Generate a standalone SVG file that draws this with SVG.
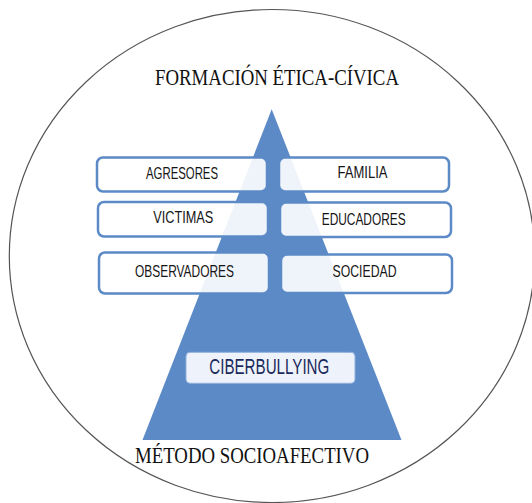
<svg xmlns="http://www.w3.org/2000/svg" width="532" height="503" viewBox="0 0 532 503">
<style>
.box{fill:#ffffff;fill-opacity:0.9;stroke:#5b8ac6;stroke-width:2.5}
.lbl{font-family:"Liberation Sans",Arial,sans-serif;font-size:17px;fill:#151515;text-anchor:middle}
.ttl{font-family:"Liberation Serif","Times New Roman",serif;font-size:22.5px;fill:#111111}
</style>
<rect width="532" height="503" fill="#ffffff"/>
<g id="circle"><ellipse cx="272" cy="256" rx="262.7" ry="246.5" fill="none" stroke="#555555" stroke-width="1.2"/></g>
<g id="title-top"><text class="ttl" x="155" y="85" textLength="244" lengthAdjust="spacingAndGlyphs">FORMACIÓN ÉTICA-CÍVICA</text></g>
<g id="pyramid"><polygon points="271.7,109.3 401.5,440 142.5,440" fill="#5b8ac6"/></g>
<g id="agresores"><rect class="box" x="97" y="157.5" width="170" height="34" rx="6"/><text class="lbl" x="182" y="179.3" textLength="72" lengthAdjust="spacingAndGlyphs">AGRESORES</text></g>
<g id="victimas"><rect class="box" x="98" y="202" width="170" height="34.5" rx="6"/><text class="lbl" x="183.3" y="223.3" textLength="60" lengthAdjust="spacingAndGlyphs">VICTIMAS</text></g>
<g id="observadores"><rect class="box" x="99" y="252.5" width="170" height="41" rx="6"/><text class="lbl" x="184.5" y="276.7" textLength="99" lengthAdjust="spacingAndGlyphs">OBSERVADORES</text></g>
<g id="familia"><rect class="box" x="279" y="157.5" width="170" height="34" rx="6"/><text class="lbl" x="362.5" y="178.3" textLength="50" lengthAdjust="spacingAndGlyphs">FAMILIA</text></g>
<g id="educadores"><rect class="box" x="280" y="202.5" width="171" height="34.5" rx="6"/><text class="lbl" x="363.7" y="225" textLength="84" lengthAdjust="spacingAndGlyphs">EDUCADORES</text></g>
<g id="sociedad"><rect class="box" x="281" y="254.5" width="171" height="38.5" rx="6"/><text class="lbl" x="364.5" y="277.3" textLength="64" lengthAdjust="spacingAndGlyphs">SOCIEDAD</text></g>
<g id="ciberbullying"><rect x="186" y="352.3" width="169" height="31" rx="4" fill="#eef2fa" stroke="#8fb0dc" stroke-width="1"/><text x="269.3" y="374.3" font-family="Liberation Sans,Arial,sans-serif" font-size="22" fill="#1b2a5c" text-anchor="middle" textLength="120" lengthAdjust="spacingAndGlyphs">CIBERBULLYING</text></g>
<g id="title-bottom"><text class="ttl" x="135" y="463.3" textLength="234" lengthAdjust="spacingAndGlyphs">MÉTODO SOCIOAFECTIVO</text></g>
<g id="connectors"></g>
</svg>
